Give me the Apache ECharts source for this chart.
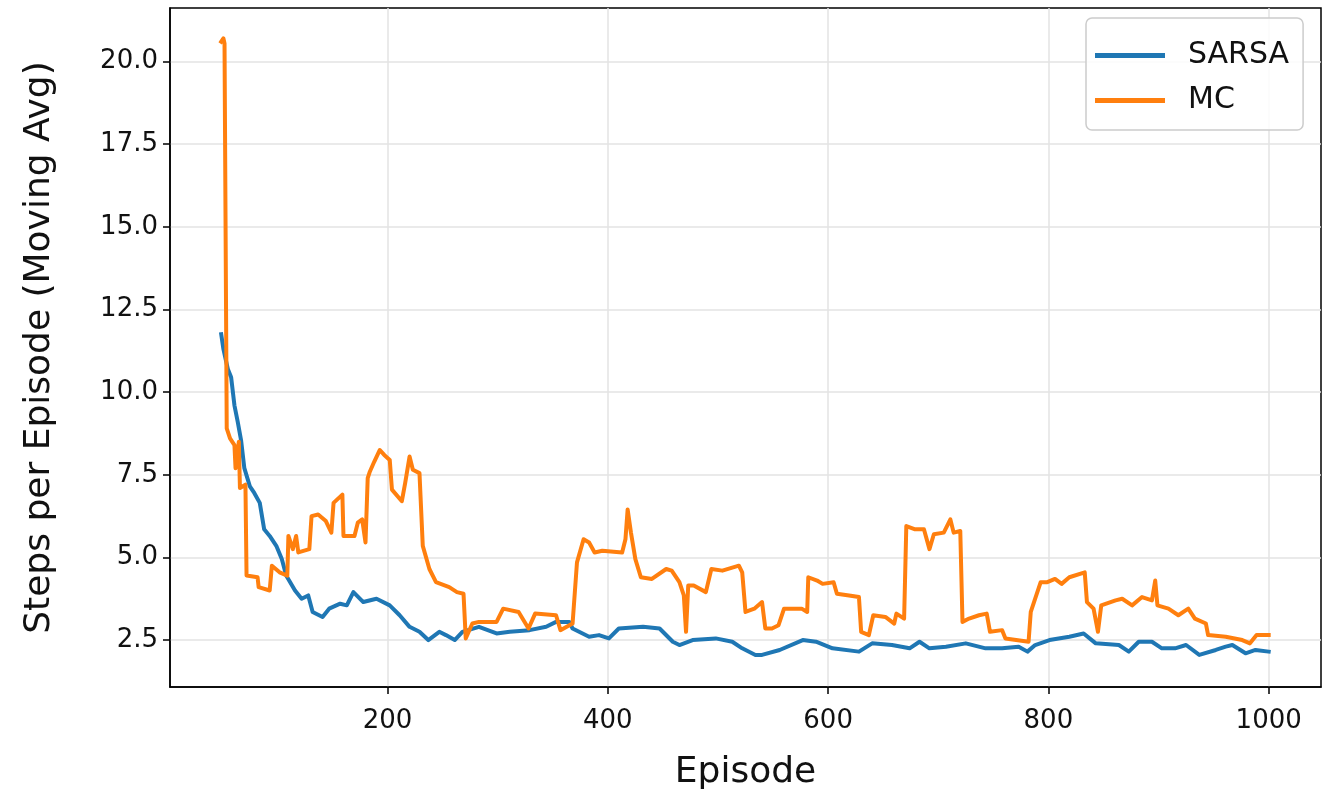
<!DOCTYPE html>
<html>
<head>
<meta charset="utf-8">
<script src="https://cdn.jsdelivr.net/npm/echarts@6/dist/echarts.min.js"></script>
<style>html,body{margin:0;padding:0;background:#fff;}#chart{width:1329px;height:796px;}</style>
</head>
<body>
<div id="chart"></div>
<script>
const xTicks = [200, 400, 600, 800, 1000];
const yTicks = [2.5, 5.0, 7.5, 10.0, 12.5, 15.0, 17.5, 20.0];

const sarsaEpisodes = [
  49, 51, 55, 58, 61, 64, 67, 70, 75, 79,
  84, 88, 93, 99, 104, 108, 116, 122, 128, 132,
  141, 147, 157, 163, 169, 178, 190, 202, 211, 220,
  229, 237, 247, 253, 261, 268, 283, 299, 311, 329,
  344, 353, 365, 368, 383, 392, 401, 410, 432, 447,
  459, 465, 477, 498, 513, 522, 534, 540, 556, 577,
  589, 604, 628, 640, 658, 674, 683, 692, 707, 725,
  743, 758, 773, 781, 788, 801, 819, 832, 843, 864,
  873, 882, 894, 903, 915, 925, 937, 952, 961, 967,
  979, 988, 1000
];
const sarsaSteps = [
  11.75, 11.3, 10.7, 10.45, 9.6, 9.1, 8.55, 7.7, 7.15, 6.95,
  6.65, 5.85, 5.65, 5.35, 4.95, 4.45, 4.0, 3.75, 3.85, 3.35,
  3.2, 3.45, 3.6, 3.55, 3.95, 3.65, 3.75, 3.55, 3.25, 2.9,
  2.75, 2.5, 2.75, 2.65, 2.5, 2.75, 2.9, 2.7, 2.75, 2.8,
  2.9, 3.05, 3.05, 2.85, 2.6, 2.65, 2.55, 2.85, 2.9, 2.85,
  2.45, 2.35, 2.5, 2.55, 2.45, 2.25, 2.05, 2.05, 2.2, 2.5,
  2.45, 2.25, 2.15, 2.4, 2.35, 2.25, 2.45, 2.25, 2.3, 2.4,
  2.25, 2.25, 2.3, 2.15, 2.35, 2.5, 2.6, 2.7, 2.4, 2.35,
  2.15, 2.45, 2.45, 2.25, 2.25, 2.35, 2.05, 2.2, 2.3, 2.35,
  2.1, 2.2, 2.15
];

const mcEpisodes = [
  49, 51, 52, 54, 57, 61, 62, 65, 66, 71,
  72, 82, 83, 93, 95, 102, 109, 110, 114, 117,
  119, 129, 131, 137, 144, 149, 151, 159, 160, 170,
  173, 177, 180, 182, 184, 188, 193, 197, 202, 204,
  213, 216, 220, 223, 229, 232, 238, 244, 256, 263,
  269, 271, 277, 283, 299, 305, 319, 328, 334, 353,
  357, 368, 372, 378, 383, 388, 395, 413, 416, 418,
  421, 425, 430, 440, 453, 458, 465, 469, 471, 473,
  478, 489, 494, 504, 519, 522, 525, 533, 540, 543,
  549, 555, 560, 576, 581, 582, 590, 595, 605, 608,
  619, 628, 630, 637, 641, 652, 660, 662, 669, 671,
  679, 687, 692, 696, 705, 711, 714, 720, 722, 728,
  737, 744, 747, 758, 761, 782, 784, 788, 793, 799,
  806, 812, 819, 833, 835, 841, 845, 848, 861, 867,
  876, 885, 894, 897, 899, 909, 918, 927, 933, 943,
  945, 961, 976, 983, 989, 1000
];
const mcSteps = [
  20.6, 20.7, 20.55, 8.9, 8.6, 8.4, 7.7, 8.5, 7.1, 7.2,
  4.45, 4.4, 4.1, 4.0, 4.75, 4.55, 4.45, 5.65, 5.25, 5.65,
  5.15, 5.25, 6.25, 6.3, 6.1, 5.75, 6.65, 6.9, 5.65, 5.65,
  6.05, 6.15, 5.45, 7.4, 7.6, 7.9, 8.25, 8.1, 7.95, 7.05,
  6.7, 7.25, 8.05, 7.65, 7.55, 5.35, 4.65, 4.25, 4.1, 3.95,
  3.9, 2.55, 3.0, 3.05, 3.05, 3.45, 3.35, 2.85, 3.3, 3.25,
  2.8, 3.0, 4.85, 5.55, 5.45, 5.15, 5.2, 5.15, 5.55, 6.45,
  5.75, 4.95, 4.4, 4.35, 4.65, 4.6, 4.25, 3.85, 2.75, 4.15,
  4.15, 3.95, 4.65, 4.6, 4.75, 4.55, 3.35, 3.45, 3.65, 2.85,
  2.85, 2.95, 3.45, 3.45, 3.35, 4.4, 4.3, 4.2, 4.25, 3.9,
  3.85, 3.8, 2.75, 2.65, 3.25, 3.2, 3.0, 3.3, 3.15, 5.95,
  5.85, 5.85, 5.25, 5.7, 5.75, 6.15, 5.75, 5.8, 3.05, 3.15,
  3.25, 3.3, 2.75, 2.8, 2.55, 2.45, 3.35, 3.75, 4.25, 4.25,
  4.35, 4.2, 4.4, 4.55, 3.65, 3.45, 2.75, 3.55, 3.7, 3.75,
  3.55, 3.8, 3.7, 4.3, 3.55, 3.45, 3.25, 3.45, 3.15, 3.0,
  2.65, 2.6, 2.5, 2.4, 2.65, 2.65
];

function zip(xs, ys) { return xs.map((x, i) => [x, ys[i]]); }

const textColor = '#111111';
const chart = echarts.init(document.getElementById('chart'), null, { renderer: 'canvas' });
chart.setOption({
  animation: false,
  backgroundColor: '#ffffff',
  textStyle: { fontFamily: 'DejaVu Sans' },
  grid: { left: 170, top: 8, right: 8, bottom: 108, show: true, borderColor: '#000', borderWidth: 1.5, backgroundColor: 'transparent' },
  legend: {
    orient: 'vertical',
    left: 1086, top: 18,
    padding: [22, 14, 14, 9],
    itemGap: 14,
    itemWidth: 70, itemHeight: 5,
    icon: 'rect',
    backgroundColor: 'rgba(255,255,255,0.85)',
    borderColor: '#cccccc', borderWidth: 1.5, borderRadius: 6,
    textStyle: { fontFamily: 'DejaVu Sans', fontSize: 30, color: textColor, lineHeight: 31, padding: [0, 0, 0, 18] },
    data: ['SARSA', 'MC']
  },
  xAxis: {
    type: 'value', min: 2.5, max: 1047.5,
    name: 'Episode', nameLocation: 'middle', nameGap: 68,
    nameTextStyle: { fontFamily: 'DejaVu Sans', fontSize: 36, color: textColor },
    axisLine: { show: true, lineStyle: { color: '#000', width: 1.5 } },
    axisTick: { show: true, inside: false, length: 7, lineStyle: { color: '#000', width: 1.5 }, customValues: xTicks },
    axisLabel: { fontFamily: 'DejaVu Sans', fontSize: 26, color: textColor, margin: 21, customValues: xTicks, formatter: v => String(v) },
    splitLine: { show: true, lineStyle: { color: '#e3e3e3', width: 1.5 } }
  },
  yAxis: {
    type: 'value', min: 1.08, max: 21.62,
    name: 'Steps per Episode (Moving Avg)', nameLocation: 'middle', nameGap: 112, nameRotate: 90,
    nameTextStyle: { fontFamily: 'DejaVu Sans', fontSize: 36, color: textColor },
    axisLine: { show: true, lineStyle: { color: '#000', width: 1.5 } },
    axisTick: { show: true, inside: false, length: 7, lineStyle: { color: '#000', width: 1.5 }, customValues: yTicks },
    axisLabel: { fontFamily: 'DejaVu Sans', fontSize: 26, color: textColor, margin: 12, customValues: yTicks, formatter: v => Number(v).toFixed(1) },
    splitLine: { show: true, lineStyle: { color: '#e3e3e3', width: 1.5 } }
  },
  series: [
    {
      name: 'SARSA', type: 'line', data: zip(sarsaEpisodes, sarsaSteps),
      showSymbol: false, symbol: 'none', z: 2,
      itemStyle: { color: '#1f77b4' },
      lineStyle: { color: '#1f77b4', width: 4, join: 'round', cap: 'square' }
    },
    {
      name: 'MC', type: 'line', data: zip(mcEpisodes, mcSteps),
      showSymbol: false, symbol: 'none', z: 3,
      itemStyle: { color: '#ff7f0e' },
      lineStyle: { color: '#ff7f0e', width: 4, join: 'round', cap: 'square' }
    }
  ]
});
</script>
</body>
</html>
